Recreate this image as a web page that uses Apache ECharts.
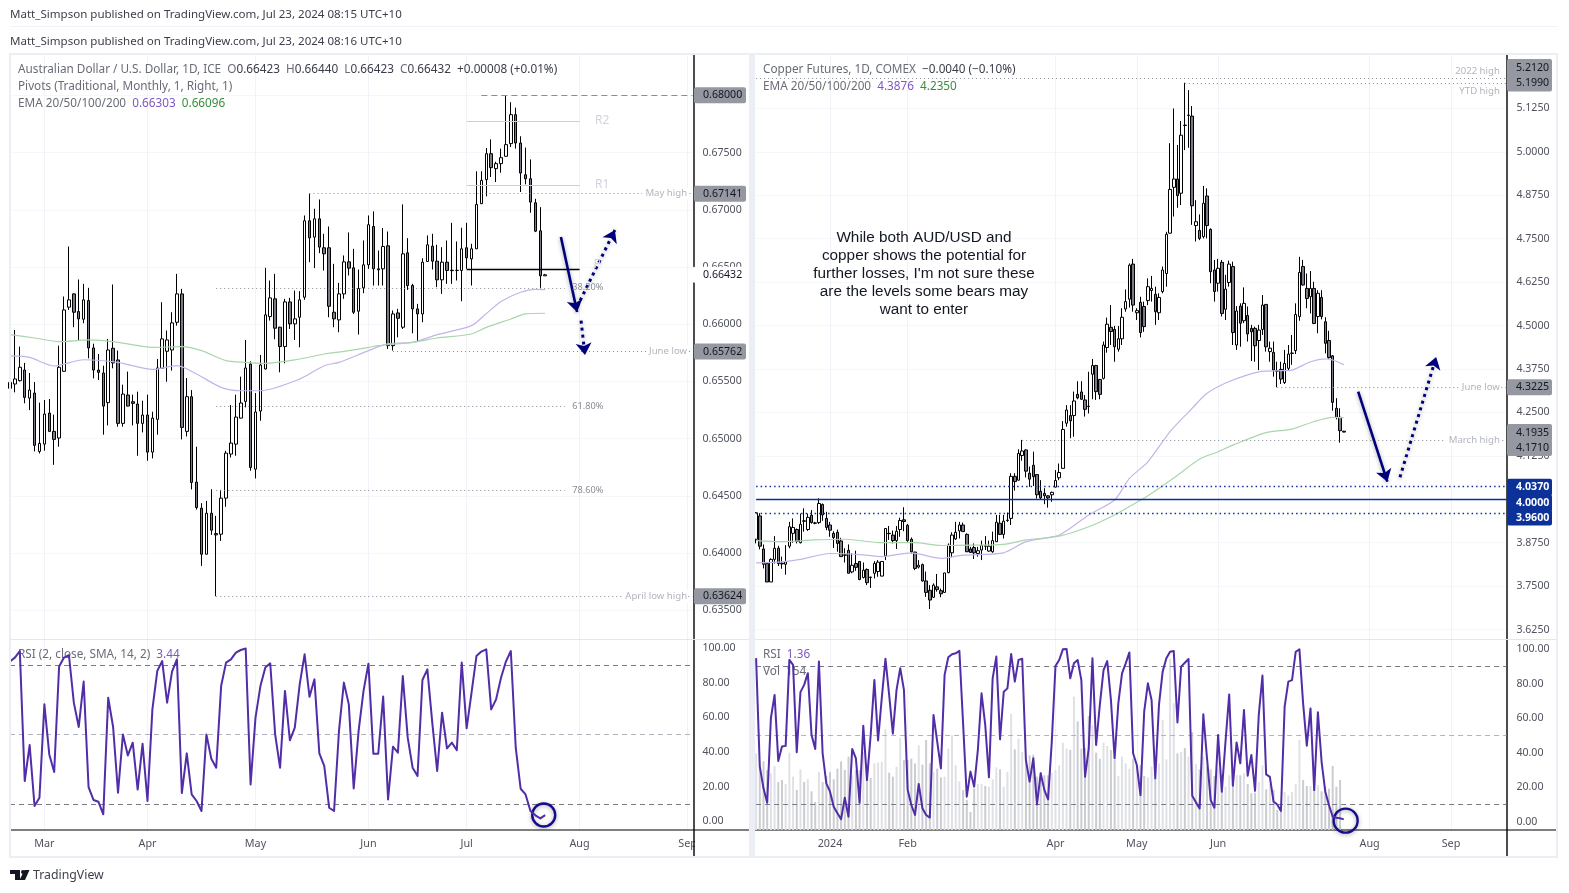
<!DOCTYPE html>
<html><head><meta charset="utf-8">
<style>html,body{margin:0;padding:0;background:#fff}#c{width:1569px;height:893px}</style>
<script src="https://cdn.jsdelivr.net/npm/echarts@6/dist/echarts.min.js"></script>
</head><body><div id="c"></div>
<script>
// ---------- AUD/USD candles: [open, close, low, high]
const audOHLC=[[.6544,.65492,.65332,.65726],[.65478,.65522,.65405,.6595],[.65507,.65624,.655,.65805],[.656,.65361,.65309,.65662],[.65355,.65425,.6525,.65574],[.65399,.64942,.64889,.65495],[.64889,.64959,.64871,.65315],[.64953,.65215,.64895,.65338],[.65224,.65064,.6506,.65347],[.65064,.64994,.64772,.6521],
[.65006,.65624,.6493,.65813],[.65589,.66125,.65585,.66242],[.66149,.66213,.66125,.66679],[.66265,.66105,.65974,.6627],[.66111,.66047,.65857,.66391],[.66044,.66213,.66009,.66353],[.66207,.65793,.65702,.66318],[.65793,.656,.65527,.6583],[.656,.6558,.65513,.6574],[.65574,.65285,.65035,.65638],
[.65315,.65775,.65116,.65872],[.6579,.65662,.65615,.66347],[.65688,.65134,.65105,.6577],[.65134,.6539,.65105,.65472],[.65382,.65285,.65283,.65586],[.65323,.65309,.65116,.65385],[.65303,.65134,.64851,.65411],[.65134,.65207,.65055,.65332],[.65207,.64883,.64807,.65385],[.64883,.6518,.64828,.65236],
[.65169,.65618,.65035,.65697],[.65615,.65872,.65612,.66192],[.65764,.65863,.65498,.65945],[.65775,.66012,.65595,.66105],[.66017,.66265,.65988,.6644],[.66265,.65099,.64994,.66309],[.65064,.65367,.6502,.6553],[.65367,.64618,.64557,.65425],[.64621,.64399,.64381,.6493],[.64393,.63991,.63889,.64437],
[.63991,.64349,.63989,.64457],[.64349,.64201,.6416,.64559],[.64171,.6416,.63624,.64326],[.64166,.64481,.64107,.64553],[.64481,.64874,.64405,.64895],[.64866,.64962,.64836,.65294],[.64953,.65189,.64851,.65385],[.6518,.65312,.65178,.65542],[.65326,.65618,.65274,.65863],[.65653,.64749,.6472,.65676],
[.64734,.65233,.64653,.65399],[.65242,.65644,.65157,.65732],[.65609,.66082,.65605,.66493],[.66067,.6623,.66032,.66382],[.66222,.65965,.65869,.6644],[.65974,.65805,.6558,.65978],[.65805,.66195,.65659,.66222],[.66195,.66003,.65959,.6623],[.66003,.66047,.65863,.66294],[.66061,.66213,.65799,.66289],
[.66236,.66904,.66213,.6695],[.66904,.66755,.66542,.67141],[.66761,.66921,.6649,.67009],[.66921,.66674,.66621,.6709],[.66668,.66615,.66469,.6679],[.66668,.66157,.66061,.66854],[.66105,.66047,.65974,.66528],[.66038,.66265,.6593,.66361],[.66265,.66545,.66222,.66601],[.66545,.6649,.66426,.66802],
[.66493,.66105,.6609,.66659],[.66114,.66312,.6591,.66478],[.66318,.66519,.66271,.66732],[.66519,.66869,.66484,.6695],[.66854,.66484,.66338,.66986],[.66484,.66475,.66338,.66644],[.66484,.66679,.66338,.6684],[.66685,.65813,.65784,.6681],[.65813,.6609,.6577,.6612],[.66099,.66052,.65886,.66134],
[.65974,.66615,.65959,.67047],[.66624,.66338,.663,.66752],[.66338,.66134,.65921,.66353],[.66134,.6609,.65851,.66178],[.6609,.66542,.66017,.66577],[.66548,.66694,.66546,.66776],[.66682,.66551,.66478,.6679],[.66551,.66388,.66324,.66694],[.66388,.66542,.66265,.66673],[.66542,.6647,.66353,.66732],
[.66472,.66468,.66353,.66886],[.6647,.66471,.66382,.66723],[.6647,.66659,.66201,.66843],[.66668,.6658,.66484,.66886],[.66571,.66659,.66338,.66703],[.66659,.67047,.66657,.67336],[.67053,.67257,.6705,.67336],[.67263,.6749,.67117,.6754],[.6749,.67368,.67286,.67615],[.67359,.67403,.67242,.6742],
[.67403,.67455,.67324,.67534],[.67467,.67569,.67465,.68],[.67578,.67831,.67548,.67939],[.67831,.67583,.67534,.67892],[.67583,.67321,.67155,.67642],[.67306,.67271,.67222,.67543],[.67271,.67067,.66974,.6744],[.67061,.66813,.66805,.67096],[.66816,.66423,.66318,.67023],[.66423,.66432,.66423,.6644]];
const audEma100Idx=[0,4,9,15,22,29,34,38,43,47,51,59,64,67,73,77,82,87,94,97,100,104,107,109];
const audEma100=[.65723,.6571,.65635,.6569,.65667,.65605,.65638,.65565,.65448,.65419,.65419,.65521,.65638,.65667,.65769,.6583,.65842,.65909,.65988,.66093,.66198,.66279,.66305,.66303];
const audEma200Idx=[0,5,10,16,22,29,35,39,44,48,52,58,64,68,73,75,82,87,94,97,102,105,109];
const audEma200=[.65909,.6588,.65848,.65863,.65842,.65798,.65804,.65769,.65682,.65667,.65658,.65688,.6574,.65763,.65798,.65813,.65842,.6588,.65915,.65973,.66046,.6609,.66096];
const audRsi=[92.4,94.7,98.5,23.2,44,8.7,13.5,67.6,38.6,28.4,89.5,94.7,96.2,68.6,54.5,80.8,19.7,12.2,11.2,3.9,71.5,54.5,16.4,50.2,38,45.4,18.2,44.8,11.6,64.7,87,92.7,68.6,86.6,93.7,16.2,39.2,15.4,11.6,5.8,50.2,36.1,30.9,78.2,91.8,93.7,97.6,99.1,100,21.2,59.9,78.2,88.9,91.4,50.2,30.9,75.4,46.8,54.1,79.2,96.6,72,82.1,39.2,31.9,7.7,5.8,52.2,80.2,67.6,18.9,52.2,75.4,91.2,39,39,72.1,12.5,43.1,39.6,84,48.3,30.9,26.1,81.7,87.9,57,29,62.8,42.1,45.4,41.1,91.8,53.7,74.4,95.6,98.2,99.5,64.7,70.5,83,92.4,98.5,42.5,18.7,15.4,5.8,3.3,1.5,3.44];

// ---------- Copper candles: [open, close, low, high]
const cuOHLC=[[3.885,3.961,3.873,3.963],[3.952,3.865,3.856,3.96],[3.857,3.813,3.801,3.87],[3.815,3.762,3.762,3.816],[3.762,3.827,3.762,3.83],[3.827,3.859,3.815,3.894],[3.859,3.815,3.808,3.866],[3.816,3.814,3.8,3.835],[3.813,3.82,3.783,3.868],[3.865,3.921,3.859,3.935],
[3.902,3.919,3.875,3.945],[3.913,3.879,3.873,3.916],[3.875,3.928,3.873,3.959],[3.938,3.937,3.907,3.974],[3.913,3.948,3.909,3.959],[3.954,3.933,3.93,3.969],[3.932,3.931,3.928,3.935],[3.933,3.988,3.929,4.003],[3.985,3.955,3.938,3.988],[3.945,3.919,3.911,3.964],
[3.926,3.911,3.892,3.935],[3.902,3.89,3.86,3.908],[3.905,3.873,3.849,3.913],[3.88,3.835,3.835,3.889],[3.84,3.839,3.818,3.859],[3.853,3.787,3.787,3.87],[3.791,3.81,3.787,3.844],[3.815,3.804,3.794,3.852],[3.821,3.769,3.767,3.822],[3.775,3.796,3.772,3.818],
[3.798,3.76,3.753,3.801],[3.776,3.775,3.745,3.777],[3.787,3.815,3.772,3.822],[3.792,3.819,3.777,3.825],[3.779,3.821,3.778,3.822],[3.837,3.916,3.825,3.917],[3.902,3.901,3.883,3.923],[3.897,3.881,3.873,3.91],[3.881,3.908,3.857,3.923],[3.913,3.939,3.892,3.947],
[3.941,3.936,3.908,3.977],[3.925,3.881,3.878,3.929],[3.885,3.849,3.844,3.89],[3.848,3.801,3.796,3.849],[3.805,3.81,3.801,3.825],[3.812,3.765,3.763,3.815],[3.765,3.732,3.719,3.792],[3.738,3.71,3.684,3.753],[3.718,3.753,3.716,3.758],[3.748,3.74,3.734,3.785],
[3.737,3.728,3.718,3.743],[3.732,3.788,3.731,3.788],[3.789,3.868,3.787,3.873],[3.846,3.897,3.833,3.905],[3.886,3.905,3.883,3.935],[3.909,3.926,3.887,3.935],[3.926,3.907,3.907,3.933],[3.899,3.849,3.848,3.902],[3.857,3.847,3.846,3.863],[3.861,3.846,3.828,3.873],
[3.844,3.852,3.835,3.863],[3.854,3.867,3.825,3.881],[3.866,3.865,3.854,3.894],[3.851,3.865,3.849,3.881],[3.849,3.881,3.846,3.907],[3.878,3.934,3.877,3.955],[3.931,3.899,3.897,3.955],[3.899,3.937,3.887,3.955],[3.939,3.94,3.935,3.962],[3.945,4.066,3.926,4.075],
[4.066,4.051,4.025,4.075],[4.055,4.132,4.054,4.144],[4.126,4.139,4.111,4.171],[4.142,4.081,4.063,4.144],[4.075,4.058,4.036,4.094],[4.098,4.065,4.038,4.137],[4.071,4.013,4.002,4.072],[4.023,4.004,3.998,4.055],[4.017,4.01,3.986,4.032],[4.01,4.004,3.976,4.011],
[4.013,4.02,3.993,4.022],[4.035,4.054,4.034,4.084],[4.062,4.077,4.055,4.103],[4.089,4.201,4.088,4.225],[4.219,4.257,4.209,4.271],[4.241,4.226,4.176,4.271],[4.241,4.283,4.18,4.31],[4.302,4.292,4.288,4.34],[4.309,4.288,4.286,4.34],[4.286,4.259,4.238,4.3],
[4.268,4.267,4.247,4.367],[4.36,4.385,4.288,4.404],[4.385,4.31,4.286,4.387],[4.345,4.302,4.288,4.346],[4.348,4.444,4.345,4.454],[4.437,4.504,4.422,4.523],[4.495,4.483,4.444,4.559],[4.489,4.439,4.396,4.499],[4.432,4.462,4.425,4.499],[4.462,4.524,4.444,4.55],
[4.548,4.569,4.54,4.604],[4.576,4.674,4.552,4.679],[4.677,4.559,4.54,4.692],[4.537,4.543,4.516,4.55],[4.567,4.48,4.466,4.583],[4.555,4.497,4.482,4.569],[4.572,4.612,4.559,4.636],[4.601,4.607,4.569,4.643],[4.59,4.54,4.502,4.612],[4.537,4.581,4.516,4.593],
[4.598,4.66,4.593,4.67],[4.65,4.763,4.612,4.77],[4.766,4.892,4.765,5.025],[4.898,4.922,4.814,5.125],[4.922,4.874,4.839,5.02],[4.881,5.048,4.847,5.089],[5.077,5.076,5.005,5.199],[5.105,5.106,5.012,5.178],[5.103,4.845,4.79,5.132],[4.788,4.799,4.742,4.861],
[4.774,4.751,4.746,4.82],[4.756,4.852,4.751,4.902],[4.873,4.788,4.751,4.895],[4.777,4.655,4.622,4.78],[4.66,4.598,4.569,4.689],[4.622,4.665,4.598,4.692],[4.682,4.535,4.526,4.689],[4.547,4.605,4.516,4.646],[4.624,4.677,4.612,4.687],[4.67,4.48,4.444,4.684],
[4.444,4.542,4.43,4.556],[4.556,4.507,4.439,4.564],[4.514,4.564,4.507,4.61],[4.529,4.476,4.454,4.555],[4.492,4.482,4.398,4.502],[4.492,4.442,4.396,4.497],[4.457,4.487,4.372,4.502],[4.489,4.559,4.473,4.588],[4.561,4.439,4.425,4.562],[4.425,4.435,4.396,4.454],
[4.423,4.372,4.353,4.454],[4.37,4.369,4.3225,4.396],[4.374,4.346,4.332,4.396],[4.336,4.391,4.332,4.43],[4.377,4.418,4.372,4.444],[4.42,4.421,4.387,4.473],[4.428,4.532,4.418,4.564],[4.526,4.653,4.514,4.698],[4.67,4.617,4.615,4.689],[4.607,4.578,4.55,4.65],
[4.583,4.607,4.535,4.657],[4.607,4.506,4.504,4.626],[4.526,4.593,4.478,4.602],[4.581,4.526,4.518,4.602],[4.511,4.449,4.42,4.524],[4.457,4.408,4.404,4.485],[4.413,4.279,4.255,4.415],[4.262,4.236,4.23,4.291],[4.236,4.1975,4.163,4.262],[4.196,4.1935,4.193,4.197]];
const cuEma100Idx=[0,7,12,20,28,34,42,50,56,67,73,82,90,97,101,106,112,118,122,128,136,141,145,150,154,156,159];
const cuEma100=[3.817,3.82,3.827,3.844,3.841,3.835,3.846,3.83,3.839,3.846,3.878,3.897,3.955,3.998,4.06,4.108,4.195,4.262,4.305,4.339,4.367,4.37,4.372,4.396,4.404,4.401,4.3876];
const cuEma200Idx=[0,7,16,24,34,43,50,58,67,73,82,90,97,101,106,113,120,125,129,138,145,151,156,159];
const cuEma200=[3.881,3.878,3.883,3.885,3.875,3.875,3.867,3.868,3.87,3.883,3.894,3.921,3.955,3.979,4.01,4.061,4.116,4.137,4.156,4.192,4.202,4.224,4.236,4.235];
const cuRsi=[94.7,31.9,19.3,11,59.9,73.4,35.2,43.5,43.9,93.7,90.8,40.2,75,79.2,86,50.2,42.1,92.7,39.6,22.2,17.4,8.7,4.9,1.5,13.9,2.9,42.1,36.7,11,55.6,24.1,50.2,82.1,47,71.5,94.3,73.4,51,76.3,88.9,76.3,18.7,9.7,3.9,21.9,7.8,3.9,2.4,61.8,46.4,30.9,85,95.2,97,97.5,98.9,57,14.5,29,20.3,41.6,74.3,55.9,25.7,83,95.6,47.7,75.2,77.2,97.1,81.1,93.7,94.3,35.7,23.2,36.7,10,28,18.3,12.9,46.4,90.1,93.6,99.8,100,83,91.7,93.6,82,26,42.5,94.6,44.4,67.6,87.8,93,70.5,36.7,68.5,85.9,91.7,98,39.6,32.8,15.4,63.7,80.1,70.5,25.1,67.6,86.9,94.6,98.4,98.8,57.5,89.8,92,94.2,15,11.2,7.7,62.2,36.7,12.5,8.1,50.2,17.4,46.3,73.7,20.8,45.9,33.8,64.7,26.6,38.6,17.9,61.8,84.6,27.4,26,11.6,10,6.2,66.6,81.1,82,98.4,99.8,68.5,44,65.6,18.3,63.3,34.7,17.4,9.6,2.9,2.3,2,1.36];
// volume in thousands of contracts
const cuVol=[115,95,103,90,85,96,72,75,69,116,80,60,91,72,76,58,42,87,72,81,87,76,92,103,90,110,82,90,90,117,82,78,100,101,102,151,86,80,95,138,105,105,107,100,127,98,135,100,87,92,79,80,122,142,97,73,60,45,27,62,69,69,66,65,76,94,91,65,87,174,121,137,117,102,112,113,80,87,82,82,86,90,97,131,122,120,200,163,122,123,171,157,116,107,131,126,120,105,81,110,100,92,107,97,97,81,79,95,77,100,165,106,257,190,115,117,123,110,147,99,91,110,95,91,81,92,84,65,82,80,82,82,85,69,55,56,72,97,61,69,60,30,27,57,52,57,69,135,75,66,66,95,67,58,65,62,96,65,75,0.154];

// ---------- axes
const audTicks=[.635,.64,.645,.65,.655,.66,.665,.67,.675,.68];
const cuTicks=[3.625,3.75,3.875,4,4.125,4.25,4.375,4.5,4.625,4.75,4.875,5,5.125];
const rsiTicks=[0,20,40,60,80,100];
const audMonthIdx=[7,28,50,73,93,116,138];
const audMonths=['Mar','Apr','May','Jun','Jul','Aug','Sep'];
const cuMonthIdx=[20,41,81,103,125,166,188];
const cuMonths=['2024','Feb','Apr','May','Jun','Aug','Sep'];
const audCats=Array.from({length:140},(_,i)=>String(i));
const cuCats=Array.from({length:204},(_,i)=>String(i));

// ---------- price levels
const audLevelPrices=[.68,.67141,.65762,.63624];
const audLevelNames=['','May high','June low','April low high'];
const audLevelFrom=[96,61,78,42];
const audPivots=[.6777,.6721,.66484];
const audPivotNames=['R2','R1','P'];
const audFibs=[.66318,.65285,.6455];
const audFibNames=['38.20%','61.80%','78.60%'];
const cuLevelPrices=[5.212,5.199,4.3225,4.171];
const cuLevelNames=['2022 high','YTD high','June low','March high'];
const cuLevelFrom=[0,116,141,72];
const cuZone=[4.037,4,3.96];

const F='"Noto Sans",sans-serif', TXT='#50535e', GRID='#f1f3f8', TAG='#9598a1', NAVY='#00007e', BLUE='#0c3299', PURPLE='#512da8';
const L={x:10,w:682.5,end:139}, R={x:756.1,w:750.3,end:203};
const T1=55,B1=639.5,T2=640,B2=830;

function grid(P,top,bottom){return {left:P.x,width:P.w,top:top,height:bottom-top,containLabel:false};}
function xCat(gi,cats,idx,names,labels){
  return {type:'category',gridIndex:gi,data:cats,boundaryGap:false,axisLine:{show:false},axisTick:{show:false},
    splitLine:{show:true,interval:(i)=>idx.includes(i),lineStyle:{color:GRID,width:1}},
    axisLabel:{show:labels,interval:(i)=>idx.includes(i),formatter:(v,i)=>names[idx.indexOf(+v)]||'',color:TXT,fontSize:10.8,fontFamily:F,margin:8}};
}
function xVal(gi,end){return {type:'value',gridIndex:gi,min:0,max:end,show:false,splitLine:{show:false}};}
function yAx(gi,min,max,ticks,dec,hgrid){
  return {type:'value',gridIndex:gi,position:'right',min:min,max:max,axisLine:{show:false},
    axisTick:{show:false,customValues:ticks},
    splitLine:{show:!!hgrid,lineStyle:{color:'#f6f7fa',width:1}},
    axisLabel:{customValues:ticks,formatter:v=>(+v).toFixed(dec),color:TXT,fontSize:10.6,fontFamily:F,margin:10}};
}
function tag(i,p,text,dy,bg,fg,w,h,bold,dx,pl){
  return {coord:[i,p],symbolSize:0,label:{show:true,position:'right',distance:0,offset:[dx||0,dy],formatter:text,width:w,height:h,lineHeight:h,
    padding:[0,0,0,pl||9],backgroundColor:bg,color:fg,fontSize:10.6,fontFamily:F,borderRadius:2,fontWeight:bold?'bold':'normal',align:'left',verticalAlign:'middle'}};
}
function note(i,p,text,color,size,pos){
  return {coord:[i,p],symbolSize:0,label:{show:true,position:pos,distance:0,formatter:text,color:color,fontSize:size,fontFamily:F,
    backgroundColor:pos==='left'?'#fff':'transparent',padding:pos==='left'?[1,1,1,3]:0}};
}
function seg(a,b,p,color,type,width){return [{coord:[a,p],lineStyle:{color:color,type:type,width:width}},{coord:[b,p]}];}
function overlay(name,xi,yi,z,ml,mp){
  return {name:name,type:'line',xAxisIndex:xi,yAxisIndex:yi,data:[],z:z,silent:true,
    markLine:ml?{silent:true,symbol:'none',label:{show:false},animation:false,data:ml}:undefined,
    markPoint:mp?{silent:true,animation:false,data:mp}:undefined};
}
function arrow(a,b,c,d,type){
  return [{coord:[a,b],symbol:'none',lineStyle:{color:NAVY,type:type,width:type==='solid'?2.6:3,shadowBlur:4,shadowColor:'rgba(0,0,0,.35)',shadowOffsetY:1}},{coord:[c,d],symbol:'arrow',symbolSize:12}];
}
function ring(i,v,s){return {coord:[i,v],symbol:'circle',symbolSize:s,itemStyle:{color:'rgba(0,0,0,0)',borderColor:'#160c8e',borderWidth:2.4,shadowBlur:4,shadowColor:'rgba(0,0,0,.35)',shadowOffsetY:1},label:{show:false}};}
function candle(name,xi,yi,data,bw){
  return {name:name,type:'candlestick',xAxisIndex:xi,yAxisIndex:yi,data:data,barWidth:bw,z:3,
    itemStyle:{color:'#ffffff',color0:'#787b86',borderColor:'#000',borderColor0:'#000',borderWidth:1}};
}
function ema(xi,yi,idx,vals,color){
  return {type:'line',xAxisIndex:xi,yAxisIndex:yi,data:idx.map((x,k)=>[x,vals[k]]),smooth:.25,showSymbol:false,symbol:'none',z:4,silent:true,lineStyle:{color:color,width:1.2}};
}
function rsi(xi,yi,data){
  return {type:'line',xAxisIndex:xi,yAxisIndex:yi,data:data,showSymbol:false,symbol:'none',z:5,silent:true,lineStyle:{color:PURPLE,width:2,join:'round'},
    markLine:{silent:true,symbol:'none',label:{show:false},animation:false,data:[
      {yAxis:90,lineStyle:{color:'#787b86',type:[5,4],width:1}},{yAxis:50,lineStyle:{color:'#b2b5be',type:[5,4],width:1}},{yAxis:10,lineStyle:{color:'#787b86',type:[5,4],width:1}}]}};
}
const DOT=[1,3], DG='#8a8d96', NOTE='#b2b5be';

const audLines=[
  seg(audLevelFrom[0],139,audLevelPrices[0],DG,[6,4],1),
  seg(audLevelFrom[1],139,audLevelPrices[1],DG,DOT,1),
  seg(audLevelFrom[2],139,audLevelPrices[2],DG,DOT,1),
  seg(audLevelFrom[3],139,audLevelPrices[3],DG,DOT,1),
  seg(93,116,audPivots[0],'#cfcfd2','solid',1),
  seg(93,116,audPivots[1],'#cfcfd2','solid',1),
  seg(93,116,audPivots[2],'#000','solid',1.3),
  seg(42,113,audFibs[0],DG,DOT,1),seg(42,113,audFibs[1],DG,DOT,1),seg(42,113,audFibs[2],DG,DOT,1)];
const audMarks=[
  note(138.1,audLevelPrices[1],audLevelNames[1],NOTE,9.6,'left'),
  note(138.1,audLevelPrices[2],audLevelNames[2],NOTE,9.6,'left'),
  note(138.1,audLevelPrices[3],audLevelNames[3],NOTE,9.6,'left'),
  note(120.6,.6778,audPivotNames[0],'#d1d4dc',12,'inside'),
  note(120.6,.6722,audPivotNames[1],'#d1d4dc',12,'inside'),
  note(119.6,.66518,audPivotNames[2],'#d1d4dc',12,'inside'),
  note(117.7,audFibs[0],audFibNames[0],'#8a8d96',9.2,'inside'),
  note(117.7,audFibs[1],audFibNames[1],'#8a8d96',9.2,'inside'),
  note(117.7,audFibs[2],audFibNames[2],'#8a8d96',9.2,'inside'),
  tag(139,.68,'0.68000',0,TAG,'#131722',43,16,false,1.5),
  tag(139,audLevelPrices[1],'0.67141',0,TAG,'#131722',43,16,false,1.5),
  tag(139,audLevelPrices[2],'0.65762',0,TAG,'#131722',43,16,false,1.5),
  tag(139,audLevelPrices[3],'0.63624',0,TAG,'#131722',43,16,false,1.5),
  tag(139,.66432,'0.66432',0,'#ffffff','#131722',43,16,false,0,10.5)];
const cuLines=[
  seg(cuLevelFrom[0],203,cuLevelPrices[0],DG,DOT,1),seg(cuLevelFrom[1],203,cuLevelPrices[1],DG,DOT,1),
  seg(cuLevelFrom[2],203,cuLevelPrices[2],DG,DOT,1),seg(cuLevelFrom[3],203,cuLevelPrices[3],DG,DOT,1),
  seg(0,203,cuZone[0],BLUE,[1.5,3],1.3),seg(0,203,cuZone[1],BLUE,'solid',1.4),seg(0,203,cuZone[2],BLUE,[1.5,3],1.3)];
const cuMarks=[
  note(201.5,5.2335,cuLevelNames[0],NOTE,9.6,'left'),
  note(201.5,5.1755,cuLevelNames[1],NOTE,9.6,'left'),
  note(201.5,cuLevelPrices[2],cuLevelNames[2],NOTE,9.6,'left'),
  note(201.5,cuLevelPrices[3],cuLevelNames[3],NOTE,9.6,'left'),
  tag(203,5.212,'5.2120',-10.3,TAG,'#131722',36,18,false,.6),
  tag(203,5.199,'5.1990',0.3,TAG,'#131722',36,17,false,.6),
  tag(203,4.3225,'4.3225',0,TAG,'#131722',36,16,false,.6),
  tag(203,4.1935,'4.1935',1,TAG,'#131722',36,18,false,.6),
  tag(203,4.171,'4.1710',8.2,TAG,'#131722',36,16,false,.6),
  tag(203,4.037,'4.0370',.7,BLUE,'#fff',36,17,true,.6),
  tag(203,4,'4.0000',3.7,BLUE,'#fff',36,17,true,.6),
  tag(203,3.96,'3.9600',4.3,BLUE,'#fff',36,16,true,.6)];

const R9='#eceef5', HF='11.75px '+F;
function line(x1,y1,x2,y2,c,w,z){return {type:'line',silent:true,z:z||1,shape:{x1,y1,x2,y2},style:{stroke:c,lineWidth:w}};}
function txt(x,y,t,rich,z){return {type:'text',silent:true,x:x,y:y,z:z||1,style:{text:t,rich:rich,font:HF,fill:'#696c77',verticalAlign:'middle'}};}
const rich={d:{fill:'#696c77',font:HF},k:{fill:'#3a3d48',font:HF},p:{fill:'#7e57c2',font:HF},g:{fill:'#388e3c',font:HF},r:{fill:'#7e57c2',font:HF}};

const graphic=[
  {type:'text',silent:true,x:10,y:14.5,style:{text:'Matt_Simpson published on TradingView.com, Jul 23, 2024 08:15 UTC+10',font:'11.55px '+F,fill:'#3c3f4a',verticalAlign:'middle'}},
  line(10,26.5,1558,26.5,'#f0f3fa',1),
  {type:'text',silent:true,x:10,y:42,style:{text:'Matt_Simpson published on TradingView.com, Jul 23, 2024 08:16 UTC+10',font:'11.55px '+F,fill:'#3c3f4a',verticalAlign:'middle'}},
  line(694,55,694,857,'#000',1.4),line(1507,55,1507,857,'#000',1.4),
  line(11,639.5,749,639.5,'#e4e6ee',1),line(755,639.5,1556,639.5,'#e4e6ee',1),
  line(11,830,750,830,'#000',1.2),line(755,830,1558,830,'#000',1.2),
  {type:'rect',silent:true,z:1,shape:{x:695,y:832,width:7,height:22},style:{fill:'#fff'}},
  txt(18,69.5,'{d|Australian Dollar / U.S. Dollar, 1D, ICE  O}{k|0.66423}{d|  H}{k|0.66440}{d|  L}{k|0.66423}{d|  C}{k|0.66432}{d|  }{k|+0.00008 (+0.01%)}',rich),
  txt(18,86.5,'Pivots (Traditional, Monthly, 1, Right, 1)'),
  txt(18,103.5,'{d|EMA 20/50/100/200  }{p|0.66303}{d|  }{g|0.66096}',rich),
  txt(18,654.5,'{d|RSI (2, close, SMA, 14, 2)  }{r|3.44}',rich),
  txt(763,69.5,'{d|Copper Futures, 1D, COMEX  }{k|\u22120.0040 (\u22120.10%)}',rich),
  txt(763,86.5,'{d|EMA 20/50/100/200  }{p|4.3876}{d|  }{g|4.2350}',rich),
  txt(763,654.5,'{d|RSI  }{r|1.36}',rich),
  txt(763,671.5,'{d|Vol  154}',rich),
  {type:'text',silent:true,x:924,y:274,z:8,style:{text:"While both AUD/USD and\ncopper shows the potential for\nfurther losses, I'm not sure these\nare the levels some bears may\nwant to enter",font:'15.3px "Liberation Sans",Arial,sans-serif',lineHeight:18,fill:'#131722',align:'center',verticalAlign:'middle'}},
  // frames
  {type:'rect',silent:true,z:10,shape:{x:10,y:54,width:740,height:803},style:{fill:'none',stroke:R9,lineWidth:2}},
  {type:'rect',silent:true,z:10,shape:{x:754,y:54,width:803,height:803},style:{fill:'none',stroke:R9,lineWidth:2}},
  {type:'rect',silent:true,z:10,shape:{x:750,y:53,width:4,height:805},style:{fill:R9}},
  // logo
  {type:'polygon',silent:true,shape:{points:[[10,870],[20,870],[20,880],[15,880],[15,874],[10,874]]},style:{fill:'#131722'}},
  {type:'circle',silent:true,shape:{cx:23,cy:872,r:2},style:{fill:'#131722'}},
  {type:'polygon',silent:true,shape:{points:[[29.5,870],[25,880],[19.5,880],[24.5,870]]},style:{fill:'#131722'}},
  {type:'text',silent:true,x:33,y:875,style:{text:'TradingView',font:'12.3px '+F,fill:'#3c3f4a',verticalAlign:'middle'}}
];

const opt={animation:false,backgroundColor:'#fff',graphic:{elements:graphic},tooltip:{show:false},
  grid:[grid(L,T1,B1),grid(L,T2,B2),grid(R,T1,B1),grid(R,T2,B2)],
  xAxis:[xCat(0,audCats,audMonthIdx,audMonths,false),xCat(1,audCats,audMonthIdx,audMonths,true),xCat(2,cuCats,cuMonthIdx,cuMonths,false),xCat(3,cuCats,cuMonthIdx,cuMonths,true),
    xVal(0,139),xVal(1,139),xVal(2,203),xVal(3,203)],
  yAxis:[yAx(0,.63246,.68352,audTicks,5,true),yAx(1,-5.2,104.9,rsiTicks,2),yAx(2,3.5964,5.2789,cuTicks,4,true),yAx(3,-4.8,105.2,rsiTicks,2),
    {type:'value',gridIndex:3,min:0,max:285,show:false,splitLine:{show:false}}],
  series:[
    overlay('audLevels',4,0,2,audLines,audMarks),
    ema(4,0,audEma100Idx,audEma100,'#c3b5e8'),ema(4,0,audEma200Idx,audEma200,'#a9d6ac'),
    candle('AUDUSD',0,0,audOHLC,3),
    overlay('audArrows',4,0,7,[arrow(112.2,.66762,115.5,.66107,'solid'),arrow(115.5,.66153,123.2,.66823,[3,4]),arrow(116.3,.66031,117.1,.65731,[3,4])]),
    rsi(1,1,audRsi),
    overlay('audRing',5,1,7,null,[ring(108.7,3.5,23)]),
    overlay('cuLevels',6,2,2,cuLines,cuMarks),
    ema(6,2,cuEma100Idx,cuEma100,'#c3b5e8'),ema(6,2,cuEma200Idx,cuEma200,'#a9d6ac'),
    candle('Copper',2,2,cuOHLC,3),
    overlay('cuArrows',6,2,7,[arrow(162.9,4.3097,170.8,4.0507,'solid'),arrow(174.2,4.0633,184,4.4096,[3,4])]),
    {name:'Vol',type:'bar',xAxisIndex:3,yAxisIndex:4,barWidth:2,z:2,silent:true,
      data:cuVol.map((v,i)=>({value:v,itemStyle:{color:cuOHLC[i][1]>=cuOHLC[i][0]?'#e0e1e6':'#caccd0'}}))},
    rsi(3,3,cuRsi),
    overlay('cuRing',7,3,7,null,[ring(159.5,.6,24)])
  ]};
const chart=echarts.init(document.getElementById('c'),null,{renderer:'canvas'});
chart.setOption(opt);
</script></body></html>
